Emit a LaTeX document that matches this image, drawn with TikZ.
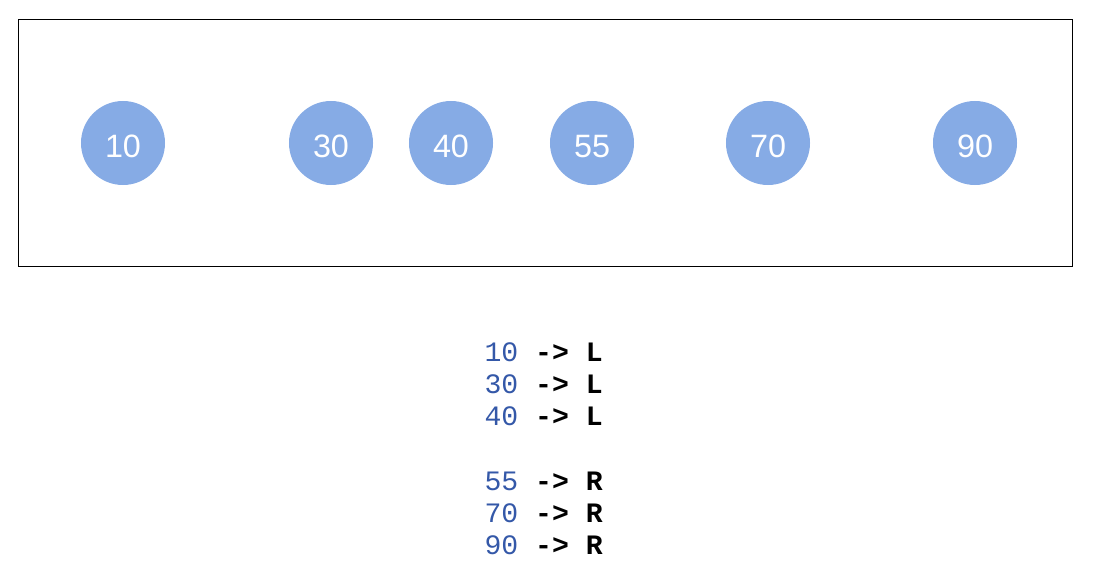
\documentclass[tikz,border=0pt]{standalone}
\usepackage{fontspec}
\setmainfont{Liberation Sans}
\setmonofont{Liberation Mono}
\usetikzlibrary{positioning}
\definecolor{ballblue}{RGB}{134,171,229}
\definecolor{keyblue}{RGB}{52,88,168}

\tikzset{
    ball/.style={circle, fill=ballblue, text=white, minimum size=2.1cm, inner sep=0pt,
        text height=0.72cm, text depth=0pt, font=\fontsize{23}{26}\selectfont},
    rule/.style={anchor=base west, inner sep=0pt, font=\ttfamily\fontsize{20}{24}\selectfont}
}

\begin{document}
\begin{tikzpicture}[x=0.025cm, y=-0.025cm, thick]
    \useasboundingbox (0,0) rectangle (1100,578);

    \draw[semithick] (18,19) rectangle (1072,266);

    \foreach \v/\x in {10/123,30/331,40/451,55/592,70/768,90/975}{
        \node[ball] (b\v) at (\x,143) {\v};
    }

    \foreach \v/\s/\y in {10/L/361,30/L/393,40/L/425,55/R/490,70/R/522,90/R/554}{
        \node[rule] (r\v) at (484,\y) {\textcolor{keyblue}{\v} {\bfseries->} {\bfseries\s}};
    }

\end{tikzpicture}
\end{document}
